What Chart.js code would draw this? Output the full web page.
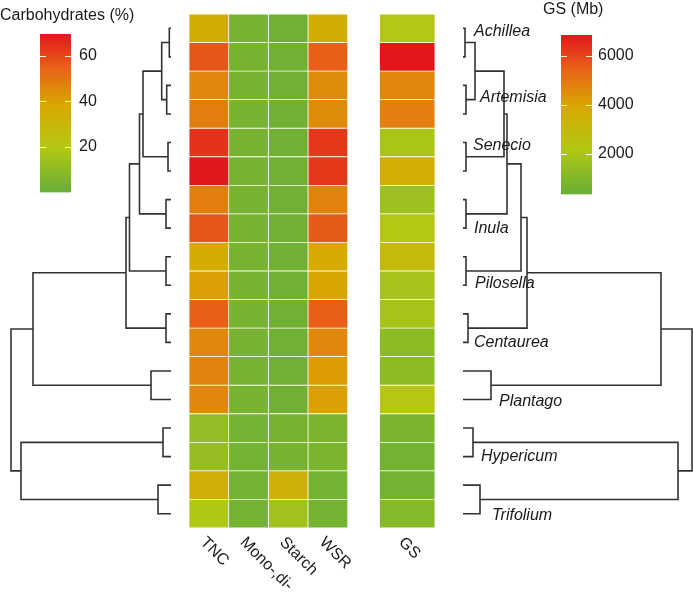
<!DOCTYPE html>
<html>
<head>
<meta charset="utf-8">
<script src="https://cdn.jsdelivr.net/npm/chart.js@4.4.1/dist/chart.umd.min.js"></script>
<style>
  html, body { margin: 0; padding: 0; background: #fff; }
  #wrap { position: relative; width: 693px; height: 595px; overflow: hidden; }
  #wrap canvas { position: absolute; top: 0; }
</style>
</head>
<body>
<div id="wrap">
  <canvas id="dendL" width="189" height="595" style="left:0"></canvas>
  <canvas id="heat" width="270" height="595" style="left:180px"></canvas>
  <canvas id="dendR" width="243" height="595" style="left:450px"></canvas>
  <canvas id="legC" width="140" height="210" style="left:0"></canvas>
  <canvas id="legG" width="150" height="210" style="left:543px"></canvas>
</div>
<script>
// rows of the heatmap, top to bottom (two species per genus)
const rowGenus = ['Achillea', 'Achillea', 'Artemisia', 'Artemisia', 'Senecio', 'Senecio',
  'Inula', 'Inula', 'Pilosella', 'Pilosella', 'Centaurea', 'Centaurea',
  'Plantago', 'Plantago', 'Hypericum', 'Hypericum', 'Trifolium', 'Trifolium'];
const genera = ['Achillea', 'Artemisia', 'Senecio', 'Inula', 'Pilosella', 'Centaurea', 'Plantago', 'Hypericum', 'Trifolium'];

// carbohydrates (%)
const tnc    = [35, 57, 46, 48, 64, 69, 48, 57, 36, 40, 55, 46, 47, 46, 11, 12, 34, 19];
const monoDi = [4, 4, 4, 4, 4, 4, 4, 4, 4, 4, 4, 4, 4, 4, 3, 3, 3, 3];
const starch = [2, 2, 2, 2, 2, 2, 2, 2, 2, 2, 2, 2, 2, 2, 4, 4, 33, 15];
const wsr    = [35, 55, 45, 45, 63, 63, 47, 56, 37, 39, 55, 46, 41, 40, 5, 5, 3, 3];
// genome size (Mb)
const gs     = [2160, 6860, 4640, 4830, 1960, 3600, 1640, 2220, 2940, 1830, 1830, 1240, 1240, 2290, 790, 590, 590, 1050];

const carbRange = [0, 69.5];
const gsRange = [330, 6860];
const carbTicks = [20, 40, 60];
const gsTicks = [2000, 4000, 6000];

// hclust style merges (negative = leaf row, positive = earlier merge), same topology both sides
const treeMerge = [[-1, -2], [-3, -4], [1, 2], [-5, -6], [3, 4], [-7, -8], [5, 6], [-9, -10], [7, 8],
  [-11, -12], [9, 10], [-13, -14], [11, 12], [-15, -16], [-17, -18], [14, 15], [13, 16]];
const carbHeights = [0.17, 0.43, 0.93, 0.3, 2.8, 0.5, 3.15, 0.5, 4.15, 0.5, 4.5, 2.0, 13.8, 0.8, 1.3, 15.0, 16.0];
const gsHeights = [0.2, 0.3, 1.2, 0.3, 4.1, 0.3, 4.4, 0.3, 5.8, 0.5, 6.4, 2.8, 19.8, 1.0, 1.7, 21.5, 22.9];

// colour ramp green -> yellow -> red
const rampStops = [
  [0, [104, 174, 56]],
  [0.28, [178, 200, 20]],
  [0.55, [216, 168, 0]],
  [0.78, [232, 100, 24]],
  [1, [226, 22, 28]]
];
function rampColor(v, range) {
  let t = (v - range[0]) / (range[1] - range[0]);
  t = Math.max(0, Math.min(1, t));
  for (let i = 1; i < rampStops.length; i++) {
    const [t1, c1] = rampStops[i];
    const [t0, c0] = rampStops[i - 1];
    if (t <= t1) {
      const f = (t - t0) / (t1 - t0);
      const c = c0.map((a, k) => Math.round(a + (c1[k] - a) * f));
      return `rgb(${c[0]},${c[1]},${c[2]})`;
    }
  }
  return 'rgb(226,22,28)';
}

Chart.defaults.font.family = '"Liberation Sans", Arial, Helvetica, sans-serif';
Chart.defaults.font.size = 16;
Chart.defaults.color = '#1a1a1a';

const baseOpts = {
  responsive: false,
  animation: false,
  devicePixelRatio: 1,
  events: []
};
const noLegend = { legend: { display: false }, tooltip: { enabled: false } };

// ---------- heatmap ----------
const heatCols = [
  { label: 'TNC', values: tnc, span: [0, 1], range: carbRange },
  { label: 'Mono-,di-', values: monoDi, span: [1, 2], range: carbRange },
  { label: 'Starch', values: starch, span: [2, 3], range: carbRange },
  { label: 'WSR', values: wsr, span: [3, 4], range: carbRange },
  { label: 'GS', values: gs, span: [4.8, 6.2], range: gsRange }
];

const colLabels = {
  id: 'colLabels',
  afterDraw(chart) {
    const { ctx, chartArea } = chart;
    const x = chart.scales.x;
    ctx.save();
    ctx.font = '16px "Liberation Sans", Arial, sans-serif';
    ctx.fillStyle = '#1a1a1a';
    ctx.textAlign = 'left';
    ctx.textBaseline = 'middle';
    heatCols.forEach(c => {
      const px = x.getPixelForValue((c.span[0] + c.span[1]) / 2) - 6;
      ctx.save();
      ctx.translate(px, chartArea.bottom + 12);
      ctx.rotate(Math.PI / 4);
      ctx.fillText(c.label, 0, 0);
      ctx.restore();
    });
    ctx.restore();
  }
};

new Chart(document.getElementById('heat'), {
  type: 'bar',
  data: {
    labels: rowGenus.map((g, i) => g + ' ' + (i % 2 + 1)),
    datasets: heatCols.map(c => ({
      label: c.label,
      data: c.values.map(() => c.span),
      backgroundColor: c.values.map(v => rampColor(v, c.range)),
      borderColor: 'rgba(255,253,240,0.9)',
      borderWidth: 0.75,
      borderSkipped: false,
      grouped: false,
      barPercentage: 1,
      categoryPercentage: 1
    }))
  },
  options: Object.assign({}, baseOpts, {
    indexAxis: 'y',
    layout: { padding: { left: 9, right: 15, top: 14, bottom: 67 } },
    plugins: noLegend,
    scales: {
      x: { type: 'linear', min: 0, max: 6.2, display: false },
      y: { type: 'category', display: false }
    }
  }),
  plugins: [colLabels]
});

// ---------- dendrograms ----------
function dendroPaths(merge, heights) {
  const pos = [], paths = [];
  const at = k => k < 0 ? { y: -k - 0.5, h: 0 } : pos[k - 1];
  merge.forEach(([a, b], i) => {
    const A = at(a), B = at(b), h = heights[i];
    paths.push([{ x: A.h, y: A.y }, { x: h, y: A.y }, { x: h, y: B.y }, { x: B.h, y: B.y }]);
    pos.push({ y: (A.y + B.y) / 2, h });
  });
  return paths;
}

function dendroChart(id, paths, reverse, xMax, padding, extraPlugins) {
  return new Chart(document.getElementById(id), {
    type: 'scatter',
    data: {
      datasets: paths.map(p => ({
        data: p,
        showLine: true,
        borderColor: '#333333',
        borderWidth: 1.6,
        borderJoinStyle: 'miter',
        pointRadius: 0,
        tension: 0,
        clip: false
      }))
    },
    options: Object.assign({}, baseOpts, {
      layout: { padding },
      plugins: noLegend,
      scales: {
        x: { type: 'linear', min: 0, max: xMax, reverse, display: false },
        y: { type: 'linear', min: 0, max: 18, reverse: true, display: false }
      }
    }),
    plugins: extraPlugins || []
  });
}

// genus label placement: [x px in canvas, row position]
const genusLabelPos = [[24, 0.6], [30, 2.92], [23, 4.6], [24, 7.5], [25, 9.45], [24, 11.5], [49, 13.57], [31, 15.5], [42, 17.57]];
const genusLabels = {
  id: 'genusLabels',
  afterDraw(chart) {
    const { ctx } = chart;
    const y = chart.scales.y;
    ctx.save();
    ctx.font = 'italic 16px "Liberation Sans", Arial, sans-serif';
    ctx.fillStyle = '#1a1a1a';
    ctx.textAlign = 'left';
    ctx.textBaseline = 'middle';
    genera.forEach((g, i) => {
      const [px, row] = genusLabelPos[i];
      ctx.fillText(g, px, y.getPixelForValue(row));
    });
    ctx.restore();
  }
};

dendroChart('dendL', dendroPaths(treeMerge, carbHeights), true, 17.1,
  { left: 0, right: 18, top: 14, bottom: 67 });
dendroChart('dendR', dendroPaths(treeMerge, gsHeights), false, 23.0,
  { left: 13, right: 0, top: 14, bottom: 67 }, [genusLabels]);

// ---------- colour bar legends ----------
const barTitle = {
  id: 'barTitle',
  afterDraw(chart, args, opts) {
    const { ctx } = chart;
    ctx.save();
    ctx.font = '16px "Liberation Sans", Arial, sans-serif';
    ctx.fillStyle = '#1a1a1a';
    ctx.textAlign = 'left';
    ctx.textBaseline = 'middle';
    ctx.fillText(opts.text, 0, opts.y);
    ctx.restore();
  }
};
const barTicks = {
  id: 'barTicks',
  afterDatasetsDraw(chart, args, opts) {
    const { ctx, chartArea } = chart;
    const y = chart.scales.y;
    ctx.save();
    ctx.strokeStyle = 'rgba(255,255,240,0.9)';
    ctx.lineWidth = 1;
    opts.ticks.forEach(v => {
      const py = Math.round(y.getPixelForValue(v)) + 0.5;
      ctx.beginPath();
      ctx.moveTo(chartArea.left, py); ctx.lineTo(chartArea.left + 6, py);
      ctx.moveTo(chartArea.right - 6, py); ctx.lineTo(chartArea.right, py);
      ctx.stroke();
    });
    ctx.restore();
  }
};

function legendChart(id, title, titleY, range, ticks, padding, tickPad, axisWidth) {
  new Chart(document.getElementById(id), {
    type: 'bar',
    data: {
      labels: [title],
      datasets: [{
        data: [range],
        barPercentage: 1,
        categoryPercentage: 1,
        backgroundColor: ctx => {
          const chart = ctx.chart;
          const ys = chart.scales.y;
          if (!chart.chartArea || !ys) return rampColor(range[0], range);
          const g = chart.ctx.createLinearGradient(0, ys.getPixelForValue(range[0]), 0, ys.getPixelForValue(range[1]));
          rampStops.forEach(([t, c]) => g.addColorStop(t, `rgb(${c[0]},${c[1]},${c[2]})`));
          return g;
        }
      }]
    },
    options: Object.assign({}, baseOpts, {
      layout: { padding },
      plugins: Object.assign({}, noLegend, {
        barTitle: { text: title, y: titleY },
        barTicks: { ticks }
      }),
      scales: {
        x: { display: false },
        y: {
          position: 'right',
          min: range[0],
          max: range[1],
          grid: { display: false, drawTicks: false },
          border: { display: false },
          afterBuildTicks: s => { s.ticks = ticks.map(v => ({ value: v })); },
          afterFit: s => { s.width = axisWidth; },
          ticks: { padding: tickPad, color: '#1a1a1a', font: { size: 16 }, callback: v => String(v) }
        }
      }
    }),
    plugins: [barTitle, barTicks]
  });
}

legendChart('legC', 'Carbohydrates (%)', 16, carbRange, carbTicks,
  { left: 40, right: 39, top: 34, bottom: 14 }, 8, 30);
legendChart('legG', 'GS (Mb)', 10, gsRange, gsTicks,
  { left: 18, right: 56, top: 35, bottom: 15 }, 6, 45);
</script>
</body>
</html>
